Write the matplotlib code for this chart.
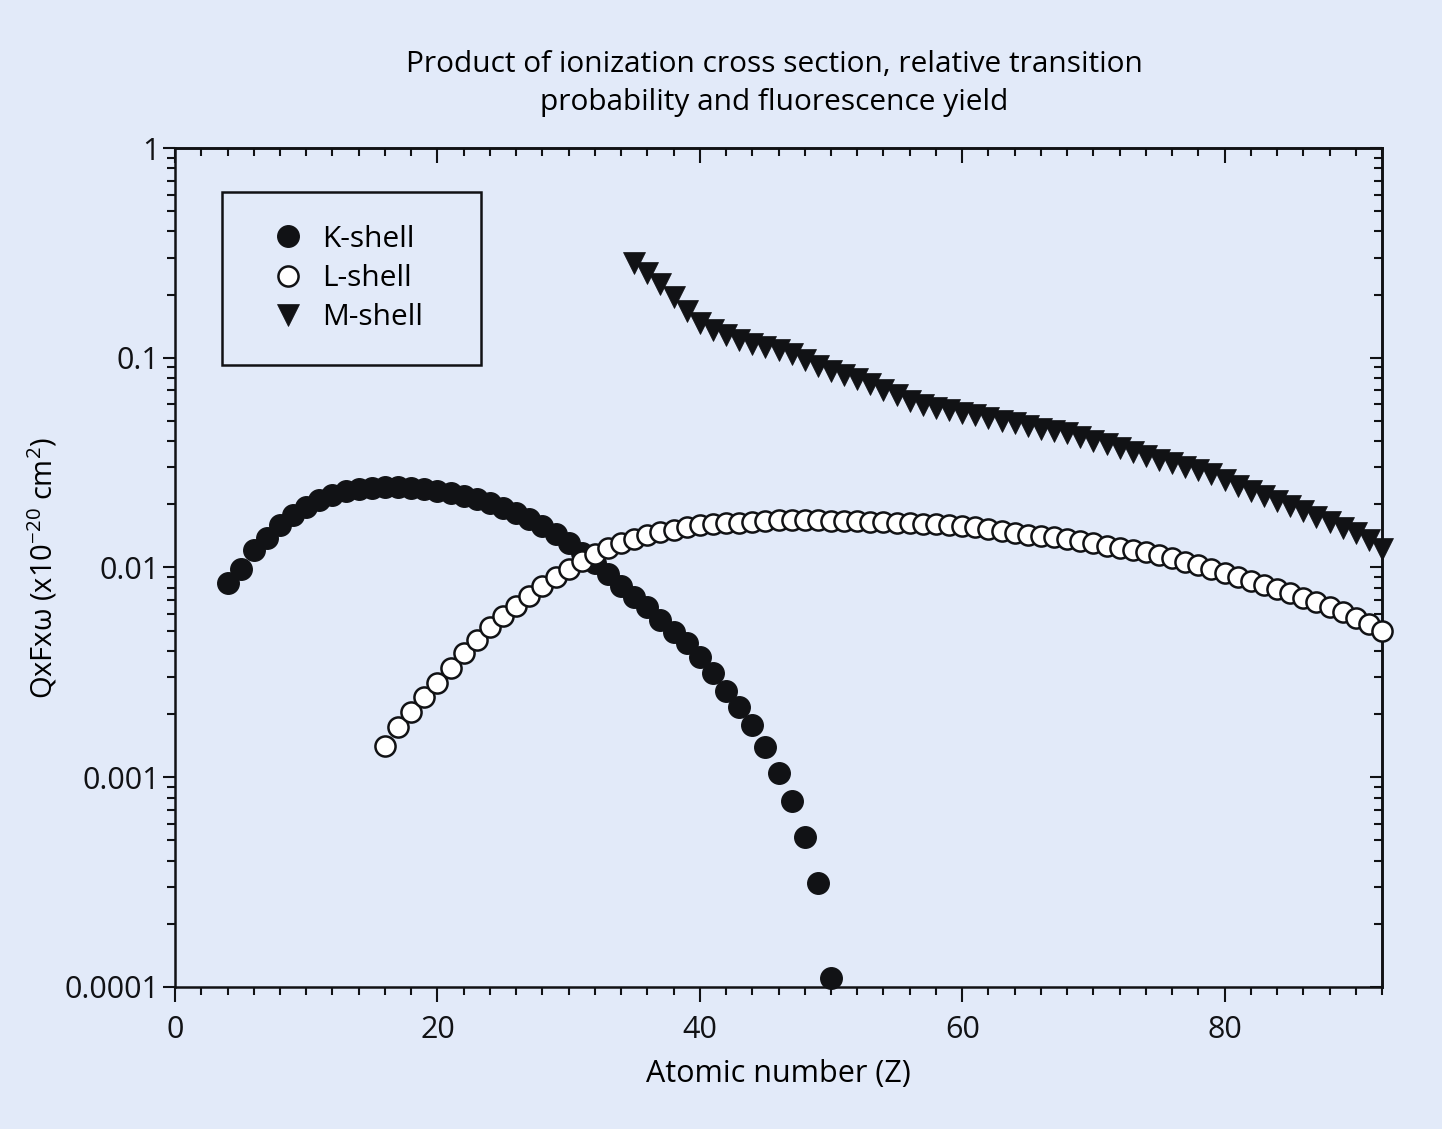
import numpy as np
import matplotlib.pyplot as plt
from matplotlib.ticker import MultipleLocator, LogLocator, NullFormatter

plt.rcParams['font.family'] = ['Open Sans', 'DejaVu Sans']
plt.rcParams['mathtext.fontset'] = 'custom'
plt.rcParams['mathtext.rm'] = 'Open Sans'

# K-shell, Z = 4..50
k_z = np.arange(4, 51)
k_val = [0.00844, 0.0098, 0.0121, 0.0138, 0.0159, 0.0178, 0.0194, 0.0210, 0.0222,
         0.0232, 0.0237, 0.0239, 0.0242, 0.0242, 0.0239, 0.0237, 0.0232, 0.0227,
         0.0219, 0.0212, 0.0203, 0.0192, 0.0182, 0.0170, 0.0158, 0.0144, 0.0131,
         0.0117, 0.0105, 0.0093, 0.00816, 0.00723, 0.00648, 0.00562, 0.00493,
         0.00437, 0.00374, 0.00314, 0.00258, 0.00216, 0.00177, 0.00139, 0.00105,
         0.00077, 0.00052, 0.000313, 0.00011]

# L-shell, Z = 16..92
l_z = np.arange(16, 93)
l_val = [0.00141, 0.00174, 0.00205, 0.00241, 0.00281, 0.00332, 0.00391, 0.00451,
         0.00520, 0.00587, 0.00655, 0.00731, 0.00816, 0.00901, 0.00984, 0.01074,
         0.01159, 0.01239, 0.0131, 0.0137, 0.0143, 0.0148, 0.0151, 0.0156, 0.0160,
         0.0161, 0.0163, 0.0163, 0.0165, 0.0167, 0.0168, 0.0168, 0.0168, 0.0168,
         0.0167, 0.0167, 0.0167, 0.0165, 0.0165, 0.0163, 0.0163, 0.0161, 0.0161,
         0.0160, 0.0158, 0.0156, 0.0153, 0.0149, 0.0146, 0.0143, 0.0141, 0.0140,
         0.0137, 0.0134, 0.0131, 0.0127, 0.0124, 0.0121, 0.0119, 0.0115, 0.0111,
         0.0106, 0.0103, 0.00984, 0.00942, 0.00901, 0.00863, 0.00826, 0.00790,
         0.00756, 0.00716, 0.00685, 0.00648, 0.00614, 0.00575, 0.00538, 0.00498]

# M-shell, Z = 35..92
m_z = np.arange(35, 93)
m_val = [0.283, 0.254, 0.225, 0.195, 0.167, 0.146, 0.136, 0.128, 0.1215, 0.1163,
         0.1125, 0.1089, 0.1042, 0.0975, 0.0913, 0.0865, 0.0827, 0.0792, 0.0750,
         0.0702, 0.0664, 0.0622, 0.0595, 0.0576, 0.0563, 0.0545, 0.0533, 0.0516,
         0.0499, 0.0489, 0.0473, 0.0457, 0.0448, 0.0438, 0.0419, 0.0401, 0.0388,
         0.0371, 0.0355, 0.0340, 0.0326, 0.0315, 0.0301, 0.0292, 0.0279, 0.0261,
         0.0245, 0.0232, 0.0219, 0.0207, 0.0196, 0.0186, 0.0174, 0.0165, 0.0154,
         0.0146, 0.0135, 0.0123]

yticks = [1e-4, 1e-3, 1e-2, 1e-1, 1]
ytick_labels = ['0.0001', '0.001', '0.01', '0.1', '1']

bg = '#e2eaf9'
ink = '#111215'

fig = plt.figure(figsize=(14.42, 11.29), dpi=100, facecolor=bg)
ax = fig.add_axes([0.1214, 0.1258, 0.8370, 0.7431], facecolor=bg)

ax.plot(k_z, k_val, 'o', ms=15.5, mfc=ink, mec=ink, mew=1, label='K-shell', clip_on=False, zorder=3)
ax.plot(l_z, l_val, 'o', ms=14.5, mfc='white', mec=ink, mew=1.8, label='L-shell', clip_on=False, zorder=3)
ax.plot(m_z, m_val, 'v', ms=16, mfc=ink, mec=ink, mew=0.5, label='M-shell', clip_on=False, zorder=3)

ax.set_yscale('log')
ax.set_xlim(0, 92)
ax.set_ylim(1e-4, 1)
ax.set_yticks(yticks)
ax.set_yticklabels(ytick_labels)
ax.yaxis.set_minor_locator(LogLocator(base=10, subs=np.arange(2, 10)))
ax.yaxis.set_minor_formatter(NullFormatter())
ax.xaxis.set_major_locator(MultipleLocator(20))
ax.xaxis.set_minor_locator(MultipleLocator(2))

for s in ax.spines.values():
    s.set_linewidth(1.8)
    s.set_color(ink)
ax.tick_params(which='both', direction='out', width=1.5, colors=ink, labelsize=22)
ax.tick_params(axis='x', which='major', length=11, pad=9)
ax.tick_params(axis='x', which='minor', length=6)
ax.tick_params(axis='y', which='major', length=9, pad=2)
ax.tick_params(axis='y', which='minor', length=6)

# inward ticks on top and right
top = ax.secondary_xaxis('top')
top.xaxis.set_major_locator(MultipleLocator(20))
top.xaxis.set_minor_locator(MultipleLocator(2))
top.xaxis.set_major_formatter(NullFormatter())
top.tick_params(which='both', direction='in', width=1.5, colors=ink)
top.tick_params(which='major', length=11)
top.tick_params(which='minor', length=6)
right = ax.secondary_yaxis('right')
right.yaxis.set_major_locator(LogLocator(base=10))
right.yaxis.set_minor_locator(LogLocator(base=10, subs=np.arange(2, 10)))
right.yaxis.set_major_formatter(NullFormatter())
right.yaxis.set_minor_formatter(NullFormatter())
right.tick_params(which='both', direction='in', width=1.5, colors=ink)
right.tick_params(which='major', length=9)
right.tick_params(which='minor', length=6)
for sa in (top, right):
    for s in sa.spines.values():
        s.set_linewidth(1.8)

ax.set_xlabel('Atomic number (Z)', fontsize=22, labelpad=10)
ax.set_ylabel('QxFxω (x10$^{\\mathregular{-20}}$ cm$^{\\mathregular{2}}$)', fontsize=21, labelpad=4)
fig.text(0.537, 0.926, 'Product of ionization cross section, relative transition\nprobability and fluorescence yield',
         ha='center', va='center', fontsize=21.5, linespacing=1.45)

leg = ax.legend(loc='upper left', bbox_to_anchor=(0.0389, 0.5, 0.2144, 0.4476), mode='expand',
                fontsize=21.5, frameon=True, fancybox=False, edgecolor=ink, facecolor=bg, framealpha=1,
                borderpad=1.1, labelspacing=0.34, handlelength=2.2, handletextpad=0.05, borderaxespad=0)
leg.get_frame().set_linewidth(1.8)

fig.savefig('out.png', dpi=100, facecolor=bg)
